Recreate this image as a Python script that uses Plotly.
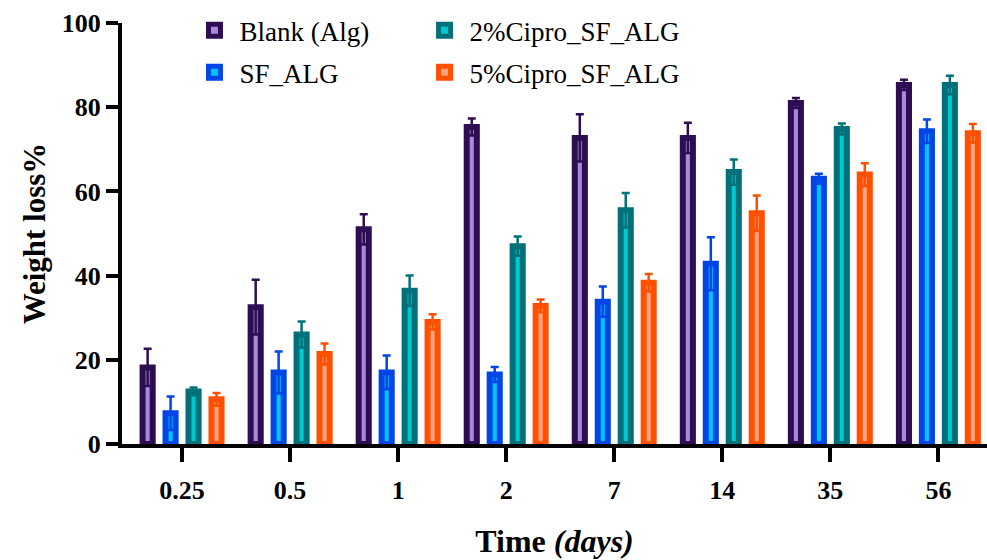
import plotly.graph_objects as go

categories = ["0.25", "0.5", "1", "2", "7", "14", "35", "56"]

blank_vals = [18.2, 32.5, 51.0, 75.3, 72.7, 72.7, 81.0, 85.3]
blank_err = [4.4, 6.5, 3.6, 2.0, 5.6, 3.6, 1.2, 1.2]
sf_vals = [7.3, 17.0, 17.0, 16.5, 33.8, 42.8, 63.0, 74.3]
sf_err = [4.0, 5.0, 4.0, 1.8, 3.6, 6.3, 1.2, 2.8]
cipro2_vals = [12.5, 26.0, 36.4, 47.0, 55.5, 64.6, 74.8, 85.3]
cipro2_err = [0.9, 3.1, 3.6, 2.3, 4.1, 3.0, 1.3, 2.2]
cipro5_vals = [10.6, 21.4, 29.0, 32.8, 38.3, 54.8, 64.0, 73.8]
cipro5_err = [1.5, 2.5, 1.8, 1.5, 2.1, 4.2, 2.7, 2.2]

series = [
    ("Blank (Alg)", blank_vals, blank_err, "#2D0E52", "#A98AD8", "legend"),
    ("SF_ALG", sf_vals, sf_err, "#0046E6", "#00C6FF", "legend"),
    ("2%Cipro_SF_ALG", cipro2_vals, cipro2_err, "#00717B", "#00C8CC", "legend2"),
    ("5%Cipro_SF_ALG", cipro5_vals, cipro5_err, "#FF5000", "#FFA27E", "legend2"),
]

fig = go.Figure()
for name, vals, err, dark, light, leg in series:
    fig.add_trace(go.Bar(
        x=categories, y=vals, name=name,
        marker=dict(color=light, line=dict(color=dark, width=6)),
        error_y=dict(type="data", array=err, visible=True, color=dark,
                     thickness=2.5, width=4),
        legend=leg, legendgroup=name,
    ))

font_family = "Liberation Serif"
fig.update_layout(
    width=987, height=560,
    margin=dict(l=122, r=0, t=23, b=116),
    paper_bgcolor="white", plot_bgcolor="white",
    barmode="group", bargap=0.15, bargroupgap=0.56,
    font=dict(family=font_family, color="black"),
    legend=dict(x=0.078, y=1.04, xanchor="left", yanchor="top",
                bgcolor="rgba(0,0,0,0)", font=dict(size=27, family=font_family),
                tracegroupgap=4, itemwidth=40),
    legend2=dict(x=0.344, y=1.04, xanchor="left", yanchor="top",
                 bgcolor="rgba(0,0,0,0)", font=dict(size=27, family=font_family),
                 tracegroupgap=4, itemwidth=40),
    xaxis=dict(
        type="category", range=[-0.556, 7.45],
        showline=True, linecolor="black", linewidth=4,
        ticks="outside", ticklen=14, tickwidth=4, tickcolor="black",
        tickfont=dict(size=26, family=font_family, weight="bold"),
        ticklabelstandoff=6,
        title=dict(text="<b>Time <i>(days)</i></b>", font=dict(size=32, family=font_family),
                   standoff=26),
        showgrid=False, zeroline=False,
    ),
    yaxis=dict(
        range=[0, 100], tickvals=[0, 20, 40, 60, 80, 100],
        showline=True, linecolor="black", linewidth=4,
        ticks="outside", ticklen=12, tickwidth=4, tickcolor="black",
        tickfont=dict(size=26, family=font_family, weight="bold"),
        title=dict(text="<b>Weight loss%</b>", font=dict(size=31, family=font_family),
                   standoff=8),
        showgrid=False, zeroline=False,
    ),
)

fig.write_html("out.html", config={"displayModeBar": False},
               post_script="document.body.style.margin='0';")
